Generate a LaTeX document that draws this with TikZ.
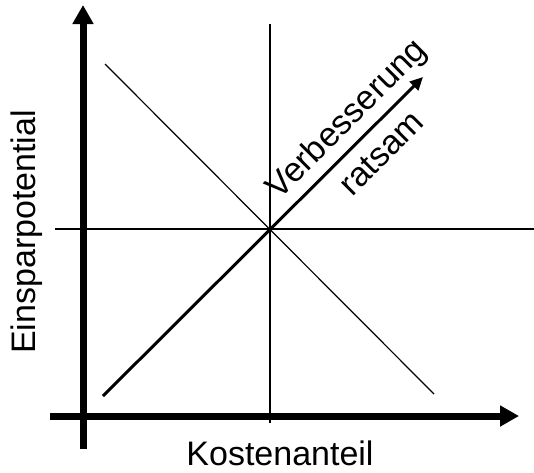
\documentclass[tikz,border=0pt]{standalone}
\usepackage{fontspec}
\setmainfont{Liberation Sans}
\usetikzlibrary{arrows.meta}
\begin{document}
\begin{tikzpicture}[x=1pt,y=-1pt,
  axis/.style={line width=7pt,-{Triangle[length=19pt,width=20pt]}},
  thin/.style={line width=1.2pt},
  diag/.style={line width=3pt,-{Triangle[length=13pt,width=12pt]}},
  lbl/.style={font=\fontsize{34}{34}\selectfont,inner sep=0pt}]
\useasboundingbox (0,0) rectangle (534,472);
% coordinates
\coordinate (yb) at (83,449);
\coordinate (yt) at (83,5);
\coordinate (xl) at (50,416);
\coordinate (xr) at (519,416);
\coordinate (vt) at (270,24);
\coordinate (vb) at (270,423);
\coordinate (hl) at (55,229);
\coordinate (hr) at (534,229);
\coordinate (dtl) at (105,64);
\coordinate (dbr) at (434,394);
\coordinate (as) at (103,396);
\coordinate (ae) at (423,77);
% thin cross
\draw[thin] (vt) -- (vb);
\draw[thin] (hl) -- (hr);
\draw[thin] (dtl) -- (dbr);
% axes
\draw[axis] (yb) -- (yt);
\draw[axis] (xl) -- (xr);
% diagonal arrow
\draw[diag] (as) -- (ae);
% labels
\node[lbl,anchor=base] (kx) at (280,465) {Kostenanteil};
\node[lbl,anchor=base,rotate=90] (ky) at (35,232) {Einsparpotential};
\node[lbl,anchor=base,rotate=45] (v1) at (354,126) {Verbesserung};
\node[lbl,anchor=base,rotate=45] (v2) at (389,161) {ratsam};
\end{tikzpicture}
\end{document}
